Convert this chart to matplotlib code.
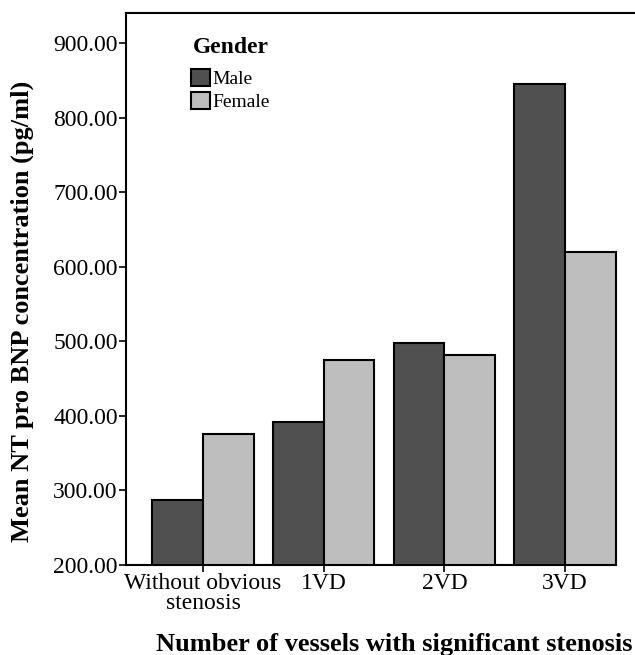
import numpy as np
import matplotlib.pyplot as plt
from matplotlib.patches import Patch

categories = ["Without obvious\nstenosis", "1VD", "2VD", "3VD"]
male = [287, 392, 498, 845]
female = [376, 475, 481, 620]
yticks = [200, 300, 400, 500, 600, 700, 800, 900]

plt.rcParams['font.family'] = ['Liberation Serif', 'DejaVu Serif']

fig = plt.figure(figsize=(6.35, 6.55), dpi=100)
ax = fig.add_axes([0.1984, 0.1374, 0.8016, 0.8426])

x = np.arange(len(categories))
w = 0.42
ax.bar(x - w / 2, male, w, bottom=0, color='#505050', edgecolor='black', linewidth=1.5, label='Male')
ax.bar(x + w / 2, female, w, bottom=0, color='#bebebe', edgecolor='black', linewidth=1.5, label='Female')

ax.set_xlim(-0.638, 3.579)
ax.set_ylim(200, 940)
ax.set_yticks(yticks)
ax.set_yticklabels([f"{v:.2f}" for v in yticks], fontsize=17)
ax.set_xticks(x)
ax.set_xticklabels(categories, fontsize=17, linespacing=0.9)
ax.tick_params(direction='out', length=5, width=1.2, pad=1)

for s in ['left', 'top', 'bottom']:
    ax.spines[s].set_linewidth(1.5)
ax.spines['right'].set_visible(False)
ax.spines['bottom'].set_bounds(-0.638, 3.42)

ax.set_ylabel("Mean NT pro BNP concentration (pg/ml)", fontsize=19, fontweight='bold')
ax.yaxis.set_label_coords(-0.18, 0.46)
ax.set_xlabel("Number of vessels with significant stenosis", fontsize=19, fontweight='bold')
ax.xaxis.set_label_coords(0.528, -0.124)

ax.text(0.132, 0.937, "Gender", transform=ax.transAxes, fontsize=17, fontweight='bold',
        ha='left', va='center')
handles = [Patch(facecolor='#505050', edgecolor='black', linewidth=1.5),
           Patch(facecolor='#bebebe', edgecolor='black', linewidth=1.5)]
ax.legend(handles, ['Male', 'Female'], loc='upper left',
          bbox_to_anchor=(0.128, 0.899), frameon=False, fontsize=14,
          handlelength=0.95, handleheight=0.95, handletextpad=0.15,
          labelspacing=0.22, borderpad=0, borderaxespad=0)

fig.savefig('out.png', dpi=100)
